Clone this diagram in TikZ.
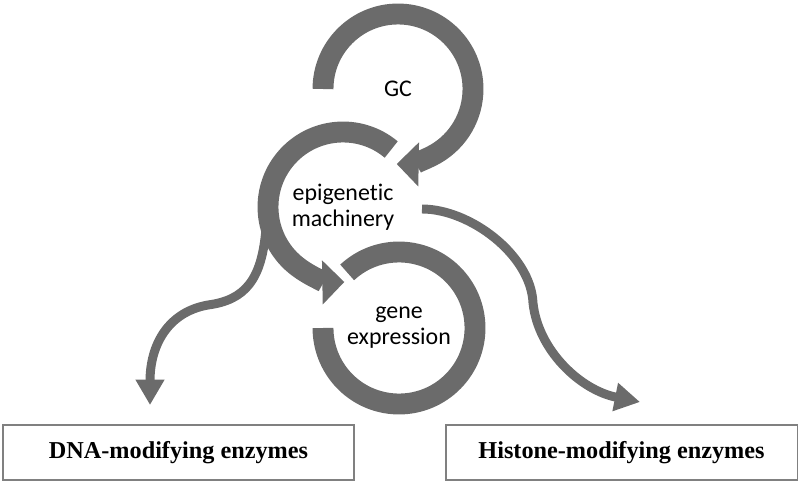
\documentclass[tikz,border=0pt]{standalone}
\usepackage{fontspec}
\setmainfont{Liberation Serif}
\newfontfamily\calib[RawFeature={-liga;-dlig}]{Carlito}
\usetikzlibrary{arrows.meta}

\definecolor{ringgray}{RGB}{107,107,107}
\definecolor{boxgray}{RGB}{128,128,128}

\tikzset{
  ring/.style={draw=ringgray, line width=11.9pt},
  ringhead/.style={-{Triangle[width=24.4pt,length=12.5pt]}},
  branch/.style={draw=ringgray, line width=5.1pt, -{Triangle[width=15.5pt,length=14.4pt]}},
  cycletext/.style={font=\calib\fontsize{13.6}{14.8}\selectfont, align=center, inner sep=0pt},
  enzymebox/.style={draw=boxgray, line width=0.8pt, minimum width=200pt, minimum height=31.2pt,
    inner sep=0pt, font=\bfseries\fontsize{13.8}{16}\selectfont}
}

\begin{document}
\begin{tikzpicture}[x=0.02cm, y=0.02cm]
  \useasboundingbox (0,0) rectangle (800,-483);

  \node[cycletext] (gc) at (398,-89) {GC}; % top loop
  \node[cycletext] (epi) at (343,-207) {epigenetic\\machinery}; % middle loop
  \node[cycletext] (gene) at (399,-328) {gene\\expression}; % bottom loop

  \node[enzymebox] (dna) at (178.5,-452.5) {DNA-modifying enzymes};
  \node[enzymebox] (histone) at (621.5,-452.5) {Histone-modifying enzymes};

  \coordinate (epileft) at (266,-228);
  \coordinate (epiright) at (422,-209);
  \coordinate (dnatip) at (150,-405);
  \coordinate (histonetip) at (640,-402);

  % circular arrows
  \draw[ring, ringhead] (gc.center) ++(180:75) arc[start angle=180, end angle=-91, radius=75];
  \draw[ring, ringhead] (epi.center) ++(50:75) arc[start angle=50, end angle=271, radius=75];
  \draw[ring] (gene.center) ++(133:76) arc[start angle=133, end angle=-180, radius=76];

  % branches to the enzymes
  \draw[branch] (epileft) .. controls (262,-280) and (245,-300) .. (208,-305)
    .. controls (168,-312) and (150,-345) .. (dnatip);
  \draw[branch] (epiright) .. controls (470,-209) and (531,-255) .. (533,-303)
    .. controls (538,-350) and (580,-390) .. (histonetip);
\end{tikzpicture}
\end{document}
